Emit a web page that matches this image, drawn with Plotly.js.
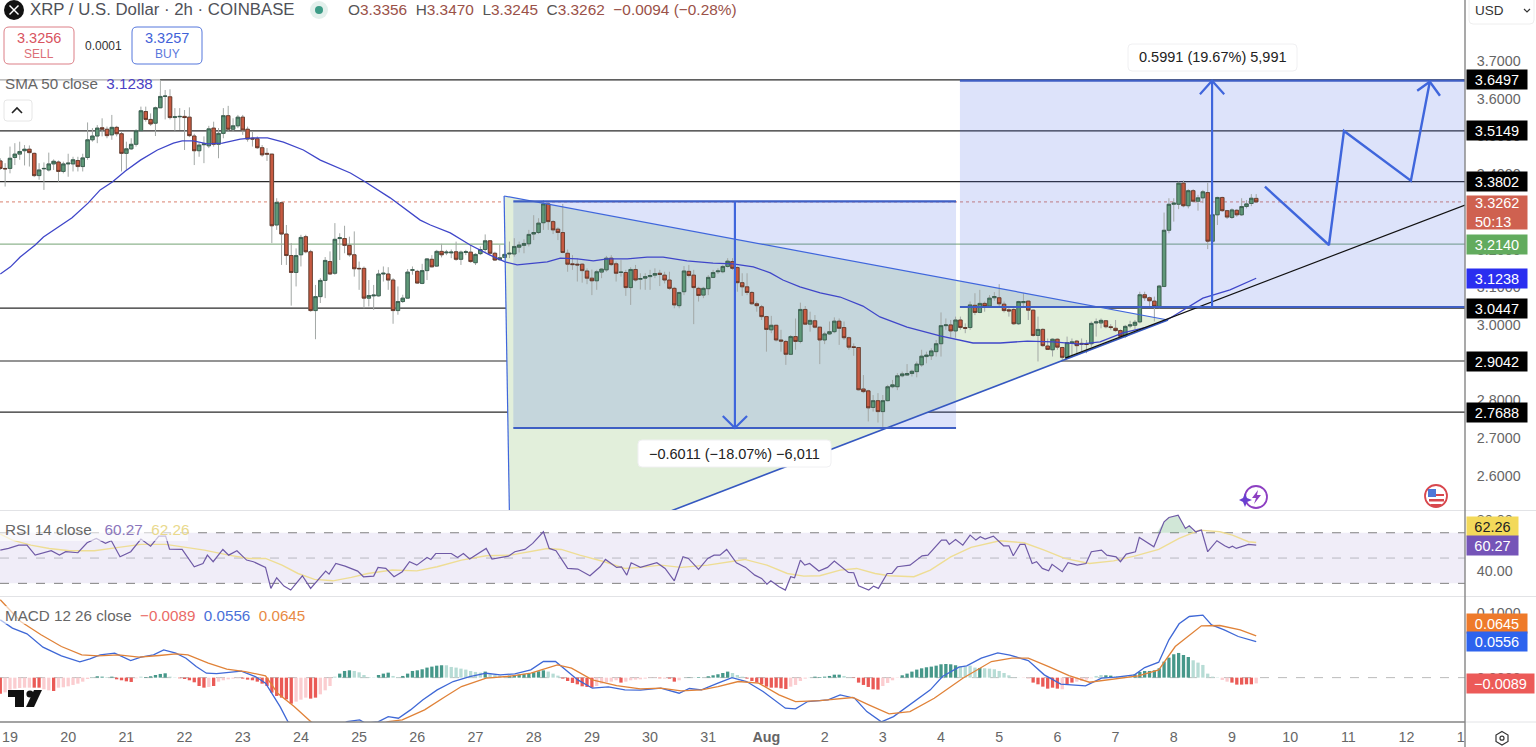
<!DOCTYPE html>
<html><head><meta charset="utf-8">
<script src="https://cdn.plot.ly/plotly-3.0.1.min.js"></script>
<style>html,body{margin:0;padding:0;background:#fff;overflow:hidden}</style>
</head><body><div id="chart" style="width:1536px;height:747px"></div>
<script>
const opens=[3.435,3.415,3.415,3.444,3.453,3.462,3.466,3.455,3.396,3.414,
3.411,3.427,3.432,3.407,3.427,3.427,3.436,3.420,3.444,3.491,
3.501,3.523,3.519,3.504,3.524,3.507,3.455,3.467,3.479,3.515,
3.566,3.545,3.535,3.576,3.606,3.605,3.550,3.552,3.553,3.551,
3.501,3.462,3.478,3.475,3.522,3.479,3.508,3.555,3.519,3.528,
3.551,3.519,3.495,3.494,3.470,3.455,3.453,3.265,3.324,3.241,
3.184,3.139,3.186,3.234,3.194,3.038,3.075,3.118,3.168,3.137,
3.229,3.229,3.211,3.186,3.150,3.150,3.071,3.077,3.077,3.135,
3.135,3.119,3.038,3.062,3.071,3.145,3.142,3.110,3.144,3.174,
3.156,3.195,3.191,3.191,3.194,3.174,3.192,3.193,3.165,3.189,
3.200,3.223,3.190,3.173,3.179,3.188,3.188,3.206,3.211,3.215,
3.241,3.245,3.271,3.321,3.274,3.254,3.245,3.190,3.162,3.161,
3.161,3.143,3.124,3.117,3.140,3.146,3.177,3.162,3.139,3.139,
3.099,3.147,3.121,3.124,3.128,3.132,3.137,3.132,3.119,3.097,
3.051,3.088,3.142,3.132,3.097,3.079,3.096,3.126,3.141,3.141,
3.155,3.168,3.152,3.112,3.101,3.086,3.056,3.048,3.022,2.987,
2.999,2.960,2.956,2.922,2.969,2.956,3.041,3.002,3.011,2.994,
2.960,2.976,2.982,3.010,2.993,2.966,2.942,2.940,2.830,2.825,
2.781,2.799,2.770,2.799,2.836,2.836,2.865,2.867,2.871,2.876,
2.894,2.916,2.918,2.929,2.950,2.998,3.000,2.984,3.013,2.993,
2.993,3.052,3.033,3.057,3.050,3.072,3.072,3.055,3.040,3.041,
3.003,3.059,3.063,3.039,2.972,2.988,2.944,2.934,2.962,2.940,
2.914,2.951,2.957,2.951,2.950,2.950,3.005,3.005,3.011,2.995,
2.991,2.985,2.970,2.997,2.999,3.008,3.080,3.072,3.063,3.049,
3.102,3.251,3.320,3.320,3.376,3.316,3.356,3.328,3.337,3.351,
3.222,3.292,3.338,3.303,3.285,3.304,3.292,3.314,3.322,3.3356];
const highs=[3.442,3.429,3.473,3.482,3.486,3.477,3.476,3.457,3.429,3.431,
3.457,3.439,3.436,3.433,3.454,3.446,3.446,3.454,3.537,3.522,
3.530,3.548,3.526,3.557,3.528,3.513,3.486,3.495,3.519,3.579,
3.579,3.561,3.579,3.650,3.623,3.625,3.575,3.575,3.570,3.577,
3.507,3.484,3.500,3.528,3.539,3.522,3.575,3.581,3.548,3.557,
3.557,3.526,3.513,3.500,3.477,3.469,3.453,3.336,3.327,3.265,
3.217,3.203,3.239,3.239,3.199,3.106,3.124,3.180,3.195,3.270,
3.243,3.263,3.234,3.248,3.168,3.155,3.119,3.106,3.146,3.155,
3.153,3.124,3.102,3.080,3.148,3.155,3.146,3.162,3.177,3.185,
3.199,3.215,3.199,3.200,3.221,3.197,3.199,3.212,3.190,3.208,
3.240,3.225,3.194,3.212,3.212,3.221,3.230,3.221,3.227,3.252,
3.291,3.283,3.331,3.324,3.278,3.259,3.321,3.200,3.185,3.177,
3.163,3.150,3.147,3.146,3.150,3.183,3.185,3.168,3.172,3.146,
3.153,3.159,3.137,3.137,3.146,3.150,3.146,3.141,3.141,3.101,
3.088,3.156,3.159,3.146,3.101,3.101,3.132,3.146,3.150,3.159,
3.177,3.177,3.155,3.137,3.137,3.090,3.062,3.053,3.024,3.024,
3.000,2.987,2.960,2.973,3.017,3.059,3.050,3.035,3.026,2.995,
2.982,3.009,3.020,3.017,3.009,2.969,2.951,2.940,2.867,2.828,
2.814,2.819,2.814,2.841,2.854,2.872,2.876,2.896,2.881,2.903,
2.934,2.929,2.938,2.960,3.033,3.017,3.013,3.022,3.022,3.004,
3.062,3.084,3.093,3.062,3.079,3.087,3.108,3.062,3.044,3.044,
3.064,3.084,3.064,3.041,3.022,2.991,2.964,2.964,2.964,2.942,
2.969,2.964,2.960,2.964,2.960,3.009,3.017,3.017,3.013,3.002,
3.013,2.988,3.000,3.011,3.013,3.088,3.088,3.075,3.075,3.106,
3.298,3.336,3.336,3.380,3.383,3.360,3.360,3.345,3.358,3.377,
3.296,3.340,3.340,3.305,3.309,3.307,3.336,3.331,3.347,3.3470];
const lows=[3.411,3.367,3.402,3.424,3.438,3.423,3.420,3.392,3.385,3.358,
3.407,3.411,3.380,3.402,3.393,3.407,3.407,3.407,3.438,3.486,
3.482,3.500,3.495,3.491,3.500,3.407,3.411,3.464,3.473,3.513,
3.539,3.528,3.501,3.575,3.545,3.545,3.515,3.517,3.464,3.498,
3.424,3.446,3.429,3.469,3.473,3.442,3.495,3.513,3.513,3.522,
3.504,3.486,3.473,3.467,3.446,3.435,3.217,3.252,3.159,3.159,
3.051,3.102,3.155,3.190,3.035,2.962,3.058,3.071,3.133,3.133,
3.172,3.190,3.181,3.128,3.093,3.044,3.049,3.040,3.075,3.115,
3.093,3.003,3.027,3.058,3.071,3.133,3.109,3.108,3.119,3.153,
3.154,3.179,3.185,3.177,3.170,3.159,3.185,3.165,3.159,3.185,
3.194,3.185,3.170,3.170,3.177,3.177,3.181,3.192,3.190,3.208,
3.225,3.241,3.252,3.252,3.241,3.225,3.190,3.141,3.146,3.115,
3.112,3.108,3.079,3.093,3.124,3.141,3.156,3.115,3.128,3.077,
3.053,3.115,3.094,3.093,3.093,3.124,3.103,3.110,3.093,3.044,
3.044,3.079,3.126,3.002,3.062,3.071,3.079,3.124,3.135,3.137,
3.152,3.146,3.088,3.077,3.079,3.053,3.035,3.013,2.929,2.978,
2.956,2.929,2.894,2.920,2.934,2.951,3.000,2.982,2.991,2.896,
2.949,2.973,2.978,2.947,2.960,2.934,2.918,2.826,2.819,2.744,
2.770,2.741,2.726,2.797,2.832,2.827,2.861,2.865,2.863,2.861,
2.889,2.898,2.907,2.916,2.916,2.987,2.966,2.966,2.987,2.978,
2.987,3.026,3.031,3.035,3.047,3.064,3.049,3.033,3.022,3.000,
3.000,3.049,3.013,2.969,2.903,2.942,2.934,2.916,2.934,2.907,
2.912,2.920,2.920,2.929,2.925,2.942,2.969,2.991,2.991,2.987,
2.982,2.965,2.965,2.991,2.988,3.004,3.064,3.049,3.009,3.044,
3.100,3.243,3.274,3.307,3.312,3.309,3.324,3.303,3.323,3.201,
3.216,3.265,3.300,3.281,3.281,3.287,3.289,3.309,3.315,3.3245];
const closes=[3.415,3.414,3.442,3.453,3.460,3.466,3.457,3.396,3.411,3.415,
3.427,3.434,3.407,3.427,3.429,3.438,3.420,3.443,3.491,3.501,
3.522,3.519,3.502,3.524,3.507,3.455,3.467,3.479,3.515,3.568,
3.545,3.533,3.576,3.606,3.607,3.550,3.552,3.553,3.550,3.502,
3.462,3.477,3.480,3.520,3.479,3.508,3.555,3.519,3.528,3.551,
3.517,3.493,3.493,3.470,3.451,3.453,3.263,3.325,3.241,3.184,
3.139,3.184,3.232,3.194,3.038,3.075,3.118,3.171,3.135,3.227,
3.231,3.211,3.186,3.149,3.149,3.071,3.078,3.079,3.135,3.137,
3.119,3.038,3.062,3.071,3.140,3.146,3.111,3.144,3.175,3.154,
3.195,3.186,3.193,3.193,3.174,3.193,3.194,3.168,3.187,3.200,
3.223,3.190,3.172,3.178,3.187,3.190,3.208,3.212,3.216,3.240,
3.245,3.270,3.321,3.274,3.252,3.245,3.192,3.161,3.160,3.159,
3.144,3.124,3.117,3.141,3.148,3.177,3.160,3.137,3.140,3.099,
3.147,3.119,3.123,3.128,3.131,3.136,3.134,3.119,3.097,3.053,
3.086,3.143,3.131,3.099,3.078,3.097,3.126,3.139,3.143,3.155,
3.169,3.150,3.112,3.101,3.086,3.056,3.051,3.022,2.988,2.999,
2.960,2.957,2.922,2.969,2.956,3.041,3.002,3.012,2.994,2.960,
2.976,2.982,3.010,2.991,2.966,2.941,2.940,2.828,2.823,2.780,
2.799,2.770,2.799,2.836,2.841,2.865,2.870,2.871,2.877,2.896,
2.917,2.920,2.931,2.950,2.998,3.000,2.984,3.013,2.993,2.991,
3.053,3.033,3.057,3.049,3.071,3.075,3.056,3.038,3.037,3.003,
3.062,3.062,3.039,2.972,2.988,2.945,2.935,2.962,2.941,2.914,
2.953,2.955,2.945,2.949,2.948,3.004,3.008,3.012,2.995,2.993,
2.985,2.970,2.996,3.000,3.007,3.080,3.072,3.064,3.049,3.103,
3.251,3.320,3.323,3.376,3.316,3.356,3.328,3.337,3.353,3.222,
3.292,3.338,3.303,3.286,3.305,3.292,3.314,3.321,3.336,3.3262];

const smaBars=[0,2.1,4.1,7.2,8.9,12,14.8,18.1,20.6,23.1,25.8,28.9,32.4,35.7,37.5,39.8,42.7,45.8,49.5,52.2,55.1,58.4,62.5,66,72.2,75.3,80.4,86.6,88.7,92.8,96.9,101,104.1,106.6,109.3,112.8,115.5,119,122.3,125.2,129.3,133.4,136.7,141.6,147,151.1,155.3,158.8,161.4,164.9,169.1,173.2,177.9,181.4,187,193.8,200.6,206.2,211.8,217.1,222.7,226.8,231.5,236.5,240.6,244.7,248,253.6,259];
const smaValues=[3.135,3.154,3.180,3.212,3.233,3.260,3.284,3.323,3.358,3.379,3.408,3.437,3.464,3.482,3.488,3.488,3.480,3.482,3.493,3.496,3.496,3.485,3.464,3.437,3.403,3.379,3.337,3.278,3.265,3.244,3.212,3.185,3.167,3.159,3.162,3.167,3.177,3.175,3.170,3.175,3.175,3.180,3.180,3.170,3.164,3.162,3.154,3.138,3.119,3.101,3.085,3.074,3.050,3.021,2.994,2.971,2.952,2.952,2.957,2.955,2.949,2.955,2.979,2.994,3.013,3.045,3.071,3.093,3.1238];

const rsiBars=[0,1.7,3.8,5.5,7.2,8.8,10.5,12.2,13.5,16,17.9,19.8,21.7,22.9,24.7,26.9,29,31,32.7,34.1,34.9,37.5,40,41.8,42.7,43.9,45.9,47.1,48.8,50.8,52.2,54.7,55.8,57,58.5,59.9,62.3,64,67.1,67.8,69.2,71.1,73.7,74.9,77,77.9,79.5,81.2,82.9,84.4,85.9,88,88.8,89.8,93,94.3,95.5,96.8,100.2,101.4,104.8,106.1,108.2,109.8,112,113.2,114.6,117,119.1,121.6,123.7,124.8,127.1,128.1,129.2,130.1,132,135.4,137.1,139,140.8,141.9,144,145.9,147.2,148.4,149.8,151.8,153.7,155.6,157,158.1,158.9,160.6,161.9,163,163.8,165,165.9,166.9,168.8,170.6,172,174.9,176,177,179.1,180.1,181.1,182.9,183.9,185,187.6,190.1,191.3,194.1,195.1,195.7,197,198.5,200,201.2,202.1,203.1,204.8,206.9,208,208.9,210.3,211.3,212.8,213.7,214.9,216.2,216.9,219,220.2,222.1,223.9,225,227.1,228.2,230.1,231,232.2,234.1,234.9,237.9,240,241,242.9,244.4,245.2,246.5,247.7,249,250.9,252.5,253.4,254.1,254.9,257.4,259];
const rsiValues=[56.3,57.6,60.2,60.2,52.3,54.2,55.8,52.3,55.0,54.2,62.1,65.5,61.6,63.7,51.0,55.0,65.0,59.4,67.3,67.3,57.1,56.8,43.1,45.7,52.3,47.1,56.8,52.3,55.8,48.4,47.1,42.6,26.0,34.4,27.8,24.7,36.0,26.0,39.7,37.3,45.7,43.6,39.7,35.2,35.7,42.6,41.8,35.2,39.2,47.1,44.4,50.5,48.9,53.6,53.6,50.5,53.6,49.2,57.6,49.2,51.5,55.0,56.8,61.6,70.8,57.6,55.8,41.8,41.3,36.0,43.1,48.9,42.6,43.1,36.5,46.3,42.6,46.3,41.8,32.0,51.0,49.7,41.0,49.7,52.3,52.3,56.8,46.3,42.6,36.5,33.9,29.4,32.0,27.3,24.7,35.2,34.4,48.4,44.4,45.7,39.7,42.6,47.6,38.6,38.4,28.1,24.7,27.8,26.0,37.8,37.8,43.1,44.4,51.8,52.3,64.2,64.2,60.8,64.7,60.2,68.1,64.2,66.8,65.0,67.3,59.7,59.7,51.8,60.8,60.8,45.7,47.1,41.8,39.9,45.0,39.2,46.3,44.4,45.7,55.0,56.3,52.3,51.0,47.1,53.1,55.0,66.3,58.9,78.7,82.1,83.9,73.4,75.5,70.8,72.1,55.0,63.7,59.7,58.1,59.4,57.6,60.8,60.27];
const rsiMaBars=[0,2.5,6.3,10.1,14.3,19.4,24.4,29,34.1,37.9,42.1,47.1,51.3,54.7,58.1,61.4,64.8,68.6,72.4,75.8,80.8,85.9,90.1,95.1,100.2,105.2,109.4,112.8,115.7,119.5,124.6,128.8,132,136.2,140.4,145.9,153.5,158.1,162.3,165.7,169,173.2,176.6,180.4,183.3,188.4,191.8,196,200.2,206.1,211.1,215.3,219.5,224.6,229.6,233.9,238.9,243.1,247.3,251.5,254.1,257.4,259];
const rsiMaValues=[68.9,64.2,60.2,57.6,55.8,55.8,58.4,60.8,60.8,58.9,56.3,52.3,49.7,49.7,44.4,37.8,33.1,32.0,34.7,37.8,40.5,39.9,43.1,48.4,51.8,52.3,55,57.6,56.8,52.3,47.1,41.8,42.6,44.4,42.6,44.4,48.9,44.4,37.8,35.7,36,40.5,41.8,37.8,36,35.2,40.5,51,58.4,63.7,62.1,56.3,49.7,45.7,47.8,51.5,56.8,65.5,72.1,70.8,68.1,62.9,62.26];
const rsiPeakBars=[238.5,240,241,242.9,244.4,245.2,246.2];
const rsiPeakValues=[70,78.7,82.1,83.9,73.4,75.5,70];

const macdBars=[0,2.5,5.5,8.8,12.6,16.4,18.5,20.6,23.6,26.9,29,31.6,33.7,36.2,38.3,40.4,42.5,44.6,49.7,52.6,54.7,56,57.7,59.3,65.7,71.5,74.1,75.3,77.9,80,82.1,84.6,87.1,90.1,93.4,96.8,100.2,103.1,106.1,109.4,112,114.5,116.6,119.1,122.1,125.4,128.8,132,136.2,140,142.1,144.6,148,150.9,153.9,157.3,161.9,164,166.5,170.7,173.2,176.2,178.7,181.7,184.2,187.6,191.8,194.3,197.7,199.3,202.3,205.7,208.2,212,215.3,218.7,223.8,227.1,230.1,233.9,236,238.9,241,243.1,245.2,248,249.8,252.4,255.3,259];
const macdValues=[.0893,.0764,.0676,.0470,.0336,.0244,.0290,.0352,.0378,.0264,.0316,.0352,.0429,.0378,.0300,.0171,.0068,.0063,.0099,.0017,-.0086,-.0241,-.0447,-.0678,-.096,-.0678,-.0653,-.0704,-.0683,-.0601,-.0627,-.0498,-.0344,-.0189,-.0060,.0017,.0068,.0043,.0058,.0120,.0249,.0249,.0120,-.0035,-.0163,-.0143,-.0189,-.0194,-.0163,-.0241,-.0168,-.0189,-.0086,.0001,-.0060,-.0215,-.0472,-.0483,-.0369,-.0344,-.0266,-.0318,-.0524,-.0683,-.0601,-.0421,-.0189,.0017,.0161,.0182,.0300,.0383,.0347,.0264,.0043,-.0101,-.0127,-.0009,.0007,.0043,.0156,.0238,.0584,.0831,.0944,.0965,.0815,.0738,.0635,.0556];
const signalBars=[0,4.2,8.4,12.6,16.8,20.2,24.4,28.6,32.8,36.2,38.7,42.9,46.7,50.5,54.7,57.2,60.6,64,69.9,80,82.9,87.5,91.8,95.1,100.2,105.2,109.4,114.9,117.8,122.1,127.1,132,136.2,140.4,144.6,148,152.2,156.4,160.6,164,169,175.8,179.1,183.3,187.6,192.6,198.5,204.4,208.6,212,216.2,220.4,224.6,230.5,234.7,238.9,242.3,247.7,251.5,255.7,259];
const signalValues=[.1202,.0867,.0661,.0481,.0352,.0336,.0352,.0316,.0342,.0367,.0352,.0223,.0130,.0094,.0027,-.0241,-.0447,-.0678,-.095,-.0678,-.0653,-.0498,-.0292,-.0138,-.0009,.0022,.0068,.0197,.0146,-.0035,-.0122,-.0174,-.0163,-.0204,-.0189,-.0138,-.0060,-.0086,-.0266,-.0369,-.0354,-.0307,-.0421,-.0560,-.0524,-.0318,-.0009,.0249,.0300,.0300,.0171,.0032,-.0071,-.0019,.0027,.0120,.0480,.0800,.0805,.0738,.0645];
const histValues=[-.0247,-.0227,-.0185,-.0170,-.0160,-.0155,-.0155,-.0155,-.0155,-.0180,
-.0196,-.0206,-.0155,-.0149,-.0134,-.0113,-.0093,-.0062,-.0021,.0010,
.0021,.0015,.0010,.0015,-.0026,-.0041,-.0057,-.0067,-.0010,.0015,
.0010,.0021,.0041,.0057,.0067,.0015,.0005,-.0010,-.0021,-.0041,
-.0072,-.0129,-.0155,-.0144,-.0129,-.0062,-.0041,-.0026,-.0015,-.0010,
-.0015,-.0031,-.0041,-.0062,-.0093,-.0129,-.0232,-.0283,-.0309,-.0335,
-.0402,-.0371,-.0340,-.0309,-.0324,-.0309,-.0258,-.0196,-.0129,.0015,
.0062,.0103,.0113,.0103,.0082,.0041,.0010,.0005,.0041,.0062,
.0077,.0026,.0010,.0026,.0062,.0103,.0113,.0129,.0155,.0170,
.0185,.0191,.0191,.0165,.0155,.0139,.0124,.0103,.0088,.0077,
.0093,.0052,.0041,.0031,.0026,.0031,.0036,.0046,.0057,.0067,
.0082,.0098,.0113,.0093,.0062,.0031,-.0015,-.0052,-.0082,-.0103,
-.0134,-.0144,-.0155,-.0129,-.0093,-.0072,-.0062,-.0041,-.0077,-.0062,
-.0041,-.0031,-.0026,-.0015,-.0005,-.0005,-.0010,-.0015,-.0015,-.0062,
-.0041,.0002,.0005,.0005,.0010,.0005,.0021,.0036,.0052,.0072,
.0093,.0072,.0041,.0015,-.0015,-.0052,-.0077,-.0103,-.0139,-.0155,
-.0155,-.0165,-.0175,-.0139,-.0113,-.0052,-.0015,.0005,.0015,.0010,
.0015,.0026,.0046,.0046,.0026,.0005,-.0005,-.0077,-.0113,-.0144,
-.0180,-.0185,-.0129,-.0082,-.0041,-.0005,.0036,.0062,.0093,.0124,
.0144,.0160,.0170,.0185,.0206,.0211,.0206,.0191,.0175,.0170,
.0185,.0155,.0149,.0144,.0139,.0129,.0103,.0072,.0036,.0005,
.0002,-.0005,-.0015,-.0077,-.0103,-.0139,-.0170,-.0155,-.0170,-.0180,
-.0103,-.0077,-.0062,-.0052,-.0031,-.0010,.0026,.0041,.0036,.0031,
.0021,.0015,.0026,.0031,.0052,.0088,.0103,.0103,.0113,.0144,
.0247,.0309,.0361,.0381,.0350,.0319,.0268,.0232,.0196,.0062,
.0015,.0005,-.0036,-.0062,-.0077,-.0108,-.0108,-.0103,-.0103,-.0089];
const histShade=("DLLLLLLDDLLDLLLLLLLLDDLDDDDDLLDDDDDLLDDDDDDLDLLLLLDDDDDDDDDDDLLLDDLLLLDDDLLLLLDDDLLDDDDDDDDDLLLLLLLLDLLLLDDDDDDDDLLLDDDDDDDLLLLLDLLLLLLLDLDDLLDLDLDDDDDLLLDDDDDDDDDLLLLLDDDDDDLLDDDDDDLLLLDDDDDDDDDDDDLLLLDLLLLLLLLLLDDDDDDLDDLLLLLLDDLLLLDDDDDDDDDDDDLLLLLLLLDDDDDLLD").split("");

const hLevels=[3.6497,3.5149,3.3802,3.0447,2.9042,2.7688];
const supportLevel=3.2140, lastPrice=3.3262;
const tickBars=[2,14,26,38,50,62,74,86,98,110,122,134,146,158,170,182,194,206,218,230,242,254,266,278,290,301.2];
const tickLabels=["19","20","21","22","23","24","25","26","27","28","29","30","31","<b>Aug</b>","2","3","4","5","6","7","8","9","10","11","12","1"];
const priceTicks=[2.6,2.7,2.8,3.0,3.1,3.2,3.4,3.5,3.6,3.7];
const priceTickLabels=['2.6000','2.7000','2.8000','3.0000','3.1000','3.2000','3.4000','3.5000','3.6000','3.7000'];
const wedgeBars=[103.9,240.8,105.2], wedgePrices=[3.3419,3.0130,2.3429];
const shortBars=[105.8,151.5,197.1], shortPrices=[3.3276,2.7265];
const longBars=[197.9,249.9,302.1], longPrices=[3.6478,3.0475];
const trendBars=[219.6,302.06], trendPrices=[2.912,3.318];
const pathBars=[260.8,274,277.1,290.9,294.8], pathPrices=[3.3666,3.2119,3.5143,3.3825,3.6451];
const headLongBars=[247.4,249.9,252.4], headLongPrices=[3.612,3.6478,3.612];
const headShortBars=[149,151.5,154], headShortPrices=[2.7585,2.7265,2.7585];
const headPathBars=[292.2,294.8,296.9], headPathPrices=[3.6212,3.6451,3.6080];

const bars=opens.map((_,i)=>i);
const W=1465,H=722;
const xp=p=>p/W, yp=p=>1-p/H;
const BLUE='#3f66dc', DK='#3f5fc4', FILL='rgba(66,100,225,0.18)';

function candle(h,l,upLine,dnLine,lw){return {type:'candlestick',x:bars,open:opens,high:h,low:l,close:closes,xaxis:'x',yaxis:'y',whiskerwidth:0,
 increasing:{line:{color:upLine,width:lw},fillcolor:'#5f9878'},decreasing:{line:{color:dnLine,width:lw},fillcolor:'#c75a41'},hoverinfo:'skip',showlegend:false};}
function line(x,y,color,width,ax){return {type:'scatter',mode:'lines',x:x,y:y,xaxis:'x',yaxis:ax||'y',line:{color:color,width:width},hoverinfo:'skip',showlegend:false,cliponaxis:true};}

const traces=[
 candle(highs,lows,'#a3a8a6','#a3a8a6',1),
 candle(opens.map((o,i)=>Math.max(o,closes[i])),opens.map((o,i)=>Math.min(o,closes[i])),'#34584a','#5c3326',0.8),
 line(smaBars,smaValues,'#3f46c9',1.3),
 line([wedgeBars[0],wedgeBars[1]],[wedgePrices[0],wedgePrices[1]],BLUE,1.2),
 line([wedgeBars[0],wedgeBars[2]],[wedgePrices[0],wedgePrices[2]],BLUE,1.2),
 line([wedgeBars[1],wedgeBars[2]],[wedgePrices[1],wedgePrices[2]],'#3558c0',1.6),
 line(trendBars,trendPrices,'#111',1.2),
 line([shortBars[0],shortBars[2]],[shortPrices[0],shortPrices[0]],DK,2.2),
 line([shortBars[0],shortBars[2]],[shortPrices[1],shortPrices[1]],DK,2.2),
 line([shortBars[1],shortBars[1]],shortPrices,BLUE,2.2),
 line(headShortBars,headShortPrices,BLUE,2.2),
 line([longBars[0],longBars[2]],[longPrices[0],longPrices[0]],DK,2.2),
 line([longBars[0],longBars[2]],[longPrices[1],longPrices[1]],DK,2.2),
 line([longBars[1],longBars[1]],longPrices,BLUE,2.2),
 line(headLongBars,headLongPrices,BLUE,2.2),
 line(pathBars,pathPrices,BLUE,2.4),
 line(headPathBars,headPathPrices,BLUE,2.4),
 {type:'scatter',mode:'lines',x:rsiPeakBars,y:rsiPeakValues,xaxis:'x',yaxis:'y2',fill:'toself',fillcolor:'rgba(90,170,110,0.28)',line:{width:0},hoverinfo:'skip',showlegend:false},
 line(rsiMaBars,rsiMaValues,'#eedd94',1.4,'y2'),
 line(rsiBars,rsiValues,'#6f5aa6',1.2,'y2'),
 {type:'bar',x:bars,y:histValues,xaxis:'x',yaxis:'y3',width:0.68,hoverinfo:'skip',showlegend:false,
  marker:{line:{width:0},color:histValues.map((v,i)=>v>=0?(histShade[i]==='D'?'#46988a':'#b7dcd5'):(histShade[i]==='D'?'#ea5a56':'#fbcdd0'))}},
 line(macdBars,macdValues,'#3f68d6',1.3,'y3'),
 line(signalBars,signalValues,'#e08238',1.3,'y3')
];

const shapes=[];
function hline(y,color,w,ref,dash,layer){shapes.push({type:'line',xref:'paper',yref:ref||'y',x0:0,x1:1,y0:y,y1:y,line:{color:color,width:w,dash:dash||'solid'},layer:layer||'below'});}
shapes.push({type:'path',xref:'x',yref:'y',layer:'below',line:{width:0},fillcolor:'#e2efdb',
 path:'M'+wedgeBars[0]+','+wedgePrices[0]+' L'+wedgeBars[1]+','+wedgePrices[1]+' L'+wedgeBars[2]+','+wedgePrices[2]+' Z'});
shapes.push({type:'rect',xref:'x',yref:'y',layer:'below',x0:shortBars[0],x1:shortBars[2],y0:shortPrices[1],y1:shortPrices[0],line:{width:0},fillcolor:FILL});
shapes.push({type:'rect',xref:'x',yref:'y',layer:'below',x0:longBars[0],x1:longBars[2],y0:longPrices[1],y1:longPrices[0],line:{width:0},fillcolor:FILL});
hLevels.forEach(v=>hline(v,'#2a2a2a',1.2));
hline(supportLevel,'#8fb58f',1.3);
hline(lastPrice,'#d9806e',1,'y','dot');
shapes.push({type:'rect',xref:'paper',yref:'y2',layer:'below',x0:0,x1:1,y0:30,y1:70,line:{width:0},fillcolor:'#f0edf8'});
hline(70,'#808080',1,'y2','dash'); hline(50,'#b9b9c2',1,'y2','dash'); hline(30,'#808080',1,'y2','dash');
hline(0,'#bbbbbb',1,'y3','dash');

function rr(x0,y0,x1,y1,r){const X=xp,Y=yp;return 'M'+X(x0+r)+','+Y(y0)+' L'+X(x1-r)+','+Y(y0)+' Q'+X(x1)+','+Y(y0)+' '+X(x1)+','+Y(y0+r)+' L'+X(x1)+','+Y(y1-r)+' Q'+X(x1)+','+Y(y1)+' '+X(x1-r)+','+Y(y1)+' L'+X(x0+r)+','+Y(y1)+' Q'+X(x0)+','+Y(y1)+' '+X(x0)+','+Y(y1-r)+' L'+X(x0)+','+Y(y0+r)+' Q'+X(x0)+','+Y(y0)+' '+X(x0+r)+','+Y(y0)+' Z';}
function box(x0,y0,x1,y1,r,fill,stroke,sw){shapes.push({type:'path',xref:'paper',yref:'paper',layer:'above',path:rr(x0,y0,x1,y1,r),fillcolor:fill,line:{color:stroke,width:sw===undefined?1:sw}});}
function poly(pts,fill,stroke,sw){shapes.push({type:'path',xref:'paper',yref:'paper',layer:'above',path:pts.map((p,i)=>(i?'L':'M')+xp(p[0])+','+yp(p[1])).join(' ')+(fill?' Z':''),fillcolor:fill||'rgba(0,0,0,0)',line:{color:stroke||'rgba(0,0,0,0)',width:sw||0}});}
function circ(cx,cy,r,fill,stroke,sw){shapes.push({type:'circle',xref:'paper',yref:'paper',layer:'above',x0:xp(cx-r),x1:xp(cx+r),y0:yp(cy+r),y1:yp(cy-r),fillcolor:fill,line:{color:stroke||'rgba(0,0,0,0)',width:sw||0}});}
function seg(x0,y0,x1,y1,c,w){shapes.push({type:'line',xref:'paper',yref:'paper',layer:'above',x0:xp(x0),x1:xp(x1),y0:yp(y0),y1:yp(y1),line:{color:c,width:w}});}

// legend washes
box(0,74,160,92,0,'rgba(255,255,255,0.6)','rgba(0,0,0,0)',0);
box(0,519,188,541,0,'rgba(255,255,255,0.6)','rgba(0,0,0,0)',0);
box(0,606,310,624,0,'rgba(255,255,255,0.6)','rgba(0,0,0,0)',0);
// frame
seg(0,510.5,1536,510.5,'#e2e3e6',1.2); seg(0,596.5,1536,596.5,'#e2e3e6',1.2);
seg(0,722,1465,722,'#858585',1.3); seg(1465,722,1536,722,'#e2e3e6',1);
seg(1465,0,1465,747,'#858585',1.4);
// header
circ(14,10,10,'#111');
seg(9.5,5.5,18.5,14.5,'#fff',1.4); seg(18.5,5.5,9.5,14.5,'#fff',1.4);
circ(319,10,9,'#e3f0ec'); circ(319,10,4,'#3d9c87');
box(4,27,74,64,5,'#fff','#dc7f87'); box(132,27,202,64,5,'#fff','#5577dc');
box(4,100,32,121,3,'#fff','#e6e6e6');
poly([[12,113],[17,108],[22,113]],null,'#222',1.6);
box(1128,44,1297,71,4,'#fff','#f0f0f2');
box(638,440,831,467,4,'#fff','#f0f0f2');
box(1469,-4,1534,24,4,'#fff','#eeeeee');
poly([[1524,9],[1527,12],[1530,9]],null,'#333',1.2);
// logo
poly([[8,690],[24,690],[24,707],[15,707],[15,697],[8,697]],'#111');
circ(30,694,3.6,'#111');
poly([[34,690],[42,690],[34,707],[26,707]],'#111');
// lightning icon
circ(1256,497,11,'#fff','#8d3fc2',1.8);
poly([[1258,490],[1252,498],[1256,498],[1254,504],[1261,495],[1257,495]],'#8d3fc2');
poly([[1245,493],[1247,498],[1252,500],[1247,502],[1245,507],[1243,502],[1239,500],[1243,498]],'#6a3fd0');
// flag icon
circ(1436,496,11,'#fff','#d8474d',1.8);
poly([[1429,499],[1444,499],[1444,501.5],[1429,501.5]],'#d8474d');
poly([[1428,494],[1444,494],[1444,496],[1428,496]],'#d8474d');
poly([[1430,504],[1442,504],[1440,506],[1432,506]],'#d8474d');
poly([[1428,489],[1436,489],[1436,497],[1428,497]],'#4f78d8');
// settings hexagon
poly([[1502,731.5],[1508,735],[1508,741.5],[1502,745],[1496,741.5],[1496,735]],'#fff','#333',1.2);
circ(1502,738.2,2,'#fff','#333',1.2);

const F='"Liberation Sans", Arial, sans-serif';
const annotations=[];
function txt(x,y,t,size,color,anchor){annotations.push({xref:'paper',yref:'paper',x:xp(x),y:yp(y),text:t,showarrow:false,xanchor:anchor||'left',yanchor:'middle',font:{family:F,size:size,color:color},borderpad:0,align:'left'});}
txt(29,10,'XRP / U.S. Dollar · 2h · COINBASE',16.8,'#4f5158');
const V='#9a5148', L='#555';
const sp=(c,t)=>'<span style="color:'+c+'">'+t+'</span>';
txt(347,10,sp(L,'O')+sp(V,'3.3356')+'  '+sp(L,'H')+sp(V,'3.3470')+'  '+sp(L,'L')+sp(V,'3.3245')+'  '+sp(L,'C')+sp(V,'3.3262')+'  '+sp(V,'−0.0094 (−0.28%)'),15.4,V);
txt(39,38,'3.3256',14.5,'#d8545f','center'); txt(39,54,'SELL',12,'#dc6f78','center');
txt(167,38,'3.3257',14.5,'#3f62d8','center'); txt(167,54,'BUY',12,'#5a78dc','center');
txt(103,46,'0.0001',12,'#333','center');
txt(4,83,sp('#666','SMA 50 close')+'  '+sp('#4a3fc4','3.1238'),15.2,'#666');
txt(4,529,sp('#666','RSI 14 close')+'   '+sp('#8a76bc','60.27')+'  '+sp('#e9d98c','62.26'),15.3,'#666');
txt(4,615,sp('#666','MACD 12 26 close')+'  '+sp('#ea6a66','−0.0089')+'  '+sp('#4a70d8','0.0556')+'  '+sp('#e88a44','0.0645'),15.2,'#666');
txt(1213,57.5,'0.5991 (19.67%) 5,991',14.5,'#222','center');
txt(734.5,453.5,'−0.6011 (−18.07%) −6,011',14.5,'#222','center');
txt(1474,11,'USD',13.5,'#333');
function tag(ref,v,t,bg,fg,w,h){annotations.push({xref:'paper',yref:ref,x:1466/W,y:v,text:t,showarrow:false,xanchor:'left',yanchor:'middle',bgcolor:bg,width:w,height:h,align:'center',valign:'middle',borderpad:0,font:{family:F,size:14.5,color:fg}});}
const tagPrices=[3.6497,3.5149,3.3802,3.0447,2.9042,2.7688];
tagPrices.forEach(v=>tag('y',v,v.toFixed(4),'#000','#fff',60,19));
annotations.push({xref:'paper',yref:'y',x:1466/W,y:3.2975,text:'&nbsp;&nbsp;3.3262<br>&nbsp;&nbsp;50:13',showarrow:false,xanchor:'left',yanchor:'middle',bgcolor:'#cf6150',width:60,height:33,align:'left',valign:'middle',borderpad:0,font:{family:F,size:14.5,color:'#fff'}});
tag('y',3.2140,'3.2140','#62ab5e','#fff',60,19);
tag('y',3.1238,'3.1238','#2a2ef0','#fff',60,19);
tag('y2',75.3,'62.26','#f3d95a','#222',51,19);
tag('y2',60.27,'60.27','#7554b8','#fff',51,19);
tag('y3',0.0835,'0.0645','#ee7a2a','#fff',60,19);
tag('y3',0.0552,'0.0556','#2d63ee','#fff',60,19);
tag('y3',-0.0087,'−0.0089','#ec5a58','#fff',67,19);

const tickFont={family:F,size:14.3,color:'#666'};
const layout={width:1536,height:747,margin:{l:0,r:71,t:0,b:25,pad:0,autoexpand:false},paper_bgcolor:'#fff',plot_bgcolor:'#fff',showlegend:false,hovermode:false,bargap:0.3,boxgap:0.15,boxgroupgap:0.15,boxmode:'overlay',
 xaxis:{domain:[0,1],range:[-0.06,302.06],anchor:'y3',tickmode:'array',tickvals:tickBars,ticktext:tickLabels,ticks:'outside',ticklen:2,tickcolor:'rgba(0,0,0,0)',tickfont:tickFont,showgrid:false,zeroline:false,showline:false,rangeslider:{visible:false},fixedrange:true},
 yaxis:{domain:[(H-510)/H,1],range:[2.5090,3.8618],side:'right',anchor:'x',tickmode:'array',tickvals:priceTicks,ticktext:priceTickLabels,ticks:'outside',ticklen:8,tickcolor:'rgba(0,0,0,0)',tickfont:tickFont,showgrid:false,zeroline:false,showline:false},
 yaxis2:{domain:[(H-596)/H,(H-511)/H],range:[20,87.2],side:'right',anchor:'x',tickmode:'array',tickvals:[40,80],ticktext:['40.00','80.00'],ticks:'outside',ticklen:8,tickcolor:'rgba(0,0,0,0)',tickfont:tickFont,showgrid:false,zeroline:false,showline:false},
 yaxis3:{domain:[0,(H-597)/H],range:[-0.0685,0.1245],side:'right',anchor:'x',tickmode:'array',tickvals:[0,0.1],ticktext:['0.0000','0.1000'],ticks:'outside',ticklen:8,tickcolor:'rgba(0,0,0,0)',tickfont:tickFont,showgrid:false,zeroline:false,showline:false},
 shapes:shapes,annotations:annotations};
Plotly.newPlot('chart',traces,layout,{staticPlot:true,displayModeBar:false});
</script></body></html>
